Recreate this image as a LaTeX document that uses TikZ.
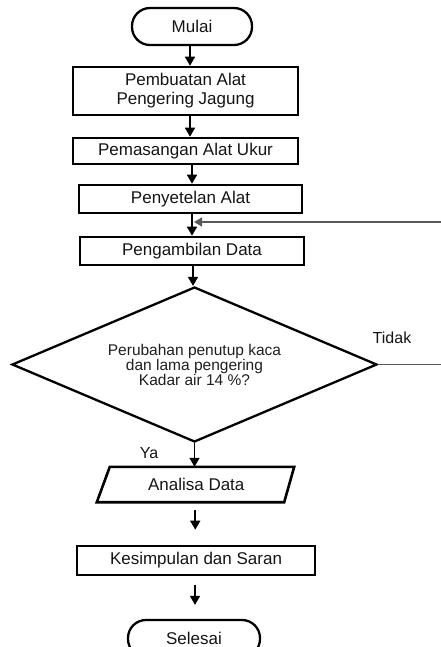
\documentclass[tikz,border=0pt]{standalone}
\usepackage{fontspec}
\setmainfont{Liberation Sans}
\usetikzlibrary{arrows.meta,shapes.geometric}
\begin{document}
\begin{tikzpicture}[x=1pt,y=-1pt,
  txt/.style={font=\fontsize{17}{19}\selectfont, text=black!92},
  procbox/.style={draw, line width=2.6pt, rectangle, inner sep=0pt, align=center, txt},
  term/.style={draw, line width=2.3pt, rectangle, rounded corners=18pt, inner sep=0pt, minimum height=37pt, txt},
  arr/.style={line width=1.6pt, -{Triangle[length=9pt,width=10pt]}},
  fb/.style={line width=1.4pt, draw=black!65},
  lbl/.style={font=\fontsize{16}{18}\selectfont, text=black!92}
]
\useasboundingbox (0,0) rectangle (440,647);

% terminators
\node[term, minimum width=120pt] (mulai) at (192,26.5) {Mulai};
\node[term, minimum width=132pt] (selesai) at (194,638.5) {Selesai};

% process boxes
\node[procbox, minimum width=225pt, minimum height=48pt] (b1) at (185.5,91) {Pembuatan Alat\\Pengering Jagung};
\node[procbox, minimum width=225pt, minimum height=26pt] (b2) at (185.5,151) {Pemasangan Alat Ukur};
\node[procbox, minimum width=223pt, minimum height=28pt] (b3) at (190.5,199) {Penyetelan Alat};
\node[procbox, minimum width=224pt, minimum height=28pt] (b4) at (192,251) {Pengambilan Data};

% decision
\node[draw, diamond, line width=2.3pt, aspect=2.35, minimum width=365pt, minimum height=155pt,
      inner sep=0pt, align=center, font=\fontsize{15.5}{15}\selectfont, text=black!88]
      (dia) at (194.5,364.5) {Perubahan penutup kaca\\dan lama pengering\\Kadar air 14 \%?};

% data (parallelogram)
\node[txt, rectangle, inner sep=0pt, minimum width=185.5pt, minimum height=35pt] (ana) at (196.25,484.5) {Analisa Data};
\draw[line width=2.6pt, line join=miter]
  ([xshift=-6.5pt]ana.south west) -- ([xshift=6.5pt]ana.north west) --
  ([xshift=5pt]ana.north east) -- ([xshift=-5pt]ana.south east) -- cycle;

\node[procbox, minimum width=238pt, minimum height=29pt] (b5) at (196,560.5) {Kesimpulan dan Saran};

% labels
\node[lbl] (tidak) at (392,338) {Tidak};
\node[lbl] (ya) at (149,453) {Ya};

% arrows
\draw[arr] ([xshift=-2pt]mulai.south) -- ([xshift=-2pt]mulai.south |- b1.north);
\draw[arr] ([xshift=4.5pt]b1.south) -- ([xshift=4.5pt]b1.south |- b2.north);
\draw[arr] ([xshift=6.5pt]b2.south) -- ([xshift=6.5pt]b2.south |- b3.north);
\draw[arr] ([xshift=1.5pt]b3.south) -- ([xshift=1.5pt]b3.south |- b4.north);
\draw[arr] ([xshift=1pt]b4.south) -- ([xshift=1pt]b4.south |- dia.north);
\draw[arr] (dia.south) -- (dia.south |- ana.north);
\draw[arr, shorten <=8pt, shorten >=15pt] ([xshift=-1pt]ana.south) -- ([xshift=-1pt]ana.south |- b5.north);
\draw[arr, shorten <=9pt, shorten >=14pt] ([xshift=-1pt]b5.south) -- ([xshift=-1pt]b5.south |- selesai.north);

% feedback loop (the "Tidak" branch, running out past the right edge)
\coordinate (tR) at (446,364.5);
\coordinate (fR) at (446,222);
\coordinate (fJ) at (194,222);
\draw[fb, -{Triangle[length=8pt,width=9pt]}] (dia.east) -- (tR) -- (fR) -- (fJ);
\end{tikzpicture}
\end{document}
